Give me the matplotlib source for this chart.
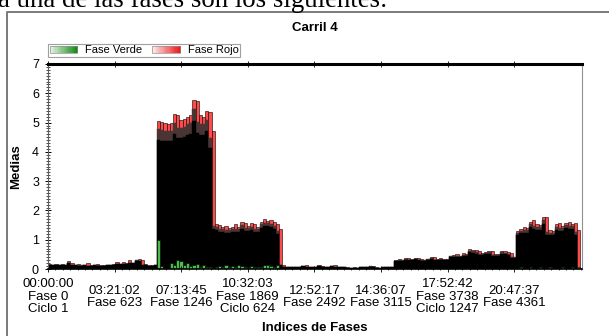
import numpy as np
import matplotlib.pyplot as plt
from matplotlib.patches import Patch, Rectangle
from matplotlib.legend_handler import HandlerBase
from matplotlib.lines import Line2D
from matplotlib.ticker import MultipleLocator
import matplotlib.colors as mcolors

plt.rcParams['font.family'] = ['Liberation Sans', 'DejaVu Sans']

# each bar groups 30 phases
paso = 30

# media de la fase roja por grupo
rojo = [
    # 00:00 - 06:00
    0.18, 0.15, 0.16, 0.14, 0.17, 0.15, 0.27, 0.22, 0.14, 0.16,
    0.13, 0.15, 0.20, 0.12, 0.14, 0.18, 0.13, 0.12, 0.15, 0.14,
    0.16, 0.24, 0.18, 0.25, 0.19, 0.30, 0.22, 0.31, 0.33, 0.30,
    0.16, 0.14, 0.12, 0.15,
    # pico de la manana
    5.05, 5.02, 4.98, 4.95, 4.97, 5.28, 5.25, 5.08, 5.12, 5.20,
    5.25, 5.78, 5.75, 5.27, 5.20, 5.38, 5.36, 4.70,
    # media manana
    1.55, 1.50, 1.42, 1.48, 1.40, 1.45, 1.52, 1.44, 1.60, 1.57,
    1.47, 1.58, 1.52, 1.42, 1.60, 1.72, 1.65, 1.68, 1.62, 1.55,
    1.35,
    # mediodia
    0.15, 0.08, 0.07, 0.06, 0.07, 0.06, 0.10, 0.13, 0.07, 0.06,
    0.07, 0.12, 0.10, 0.07, 0.06, 0.11, 0.14, 0.07, 0.06, 0.07,
    0.06, 0.05, 0.06, 0.05, 0.06, 0.07, 0.06, 0.09, 0.10, 0.06,
    0.05, 0.06, 0.07, 0.06, 0.08,
    # tarde
    0.30, 0.33, 0.32, 0.36, 0.39, 0.34, 0.38, 0.37, 0.33, 0.31,
    0.35, 0.42, 0.40, 0.34, 0.37, 0.35, 0.33,
    0.46, 0.48, 0.50, 0.46, 0.53, 0.50, 0.70, 0.66, 0.64, 0.60,
    0.55, 0.59, 0.61, 0.60, 0.52, 0.50, 0.62, 0.60, 0.58, 0.55,
    0.42,
    # noche
    1.30, 1.38, 1.44, 1.40, 1.62, 1.67, 1.55, 1.50, 1.78, 1.76,
    1.33, 1.30, 1.52, 1.56, 1.48, 1.58, 1.60, 1.55, 1.56, 1.33,
]

# media de la fase verde por grupo
verde = [
    0.03, 0.02, 0.03, 0.02, 0.03, 0.02, 0.03, 0.03, 0.02, 0.03,
    0.02, 0.03, 0.02, 0.02, 0.03, 0.02, 0.03, 0.02, 0.03, 0.02,
    0.03, 0.03, 0.02, 0.03, 0.02, 0.03, 0.03, 0.02, 0.03, 0.02,
    0.03, 0.02, 0.03, 0.02,
    1.00, 0.10, 0.05, 0.03, 0.20, 0.12, 0.30, 0.28, 0.15, 0.20,
    0.10, 0.12, 0.18, 0.08, 0.12, 0.06, 0.08, 0.04,
    0.06, 0.10, 0.08, 0.12, 0.07, 0.10, 0.08, 0.12, 0.09, 0.06,
    0.08, 0.10, 0.06, 0.08, 0.07, 0.12, 0.14, 0.10, 0.08, 0.12,
    0.03,
    0.02, 0.02, 0.01, 0.02, 0.02, 0.01, 0.02, 0.02, 0.01, 0.02,
    0.02, 0.01, 0.02, 0.02, 0.01, 0.02, 0.02, 0.01, 0.02, 0.02,
    0.01, 0.02, 0.02, 0.01, 0.02, 0.02, 0.01, 0.02, 0.02, 0.01,
    0.02, 0.02, 0.01, 0.02, 0.02,
    0.03, 0.02, 0.03, 0.04, 0.03, 0.02, 0.03, 0.04, 0.03, 0.02,
    0.03, 0.04, 0.03, 0.02, 0.03, 0.04, 0.03,
    0.04, 0.03, 0.05, 0.04, 0.03, 0.05, 0.04, 0.03, 0.05, 0.04,
    0.03, 0.05, 0.04, 0.03, 0.05, 0.04, 0.03, 0.05, 0.04, 0.03,
    0.04,
    0.05, 0.06, 0.04, 0.05, 0.06, 0.05, 0.04, 0.06, 0.05, 0.04,
    0.06, 0.05, 0.04, 0.05, 0.06, 0.05, 0.04, 0.06, 0.05, 0.07,
]

tick_fases = [0, 623, 1246, 1869, 2492, 3115, 3738, 4361]
tick_horas = ['00:00:00', '03:21:02', '07:13:45', '10:32:03',
              '12:52:17', '14:36:07', '17:52:42', '20:47:37']
tick_ciclos = {0: 'Ciclo 1', 1869: 'Ciclo 624', 3738: 'Ciclo 1247'}


class GradHandler(HandlerBase):
    # legend patch with horizontal gradient, like the original control
    def __init__(self, c0, c1):
        super().__init__()
        self.c0 = np.array(mcolors.to_rgb(c0))
        self.c1 = np.array(mcolors.to_rgb(c1))

    def create_artists(self, legend, orig_handle, xdescent, ydescent,
                       width, height, fontsize, trans):
        arts = []
        n = 24
        for k in range(n):
            f = k / (n - 1)
            col = self.c0 * (1 - f) + self.c1 * f
            r = Rectangle((-xdescent + k * width / n, -ydescent), width / n + 0.3, height,
                          facecolor=col, edgecolor='none', transform=trans)
            arts.append(r)
        arts.append(Rectangle((-xdescent, -ydescent), width, height, facecolor='none',
                              edgecolor='#909090', lw=0.5, transform=trans))
        return arts


fig = plt.figure(figsize=(6.09, 3.36), dpi=100)
ax = fig.add_axes([48 / 609, 1 - 269 / 336, 534 / 609, 205 / 336])

x = np.arange(len(rojo)) * paso
r = np.array(rojo)
base = np.minimum(r, np.append(r[1:], 0))

ax.bar(x, r, width=paso, align='edge', color='#ff4a4a', edgecolor='black', lw=0.4)
ax.bar(x, base * 0.95, width=paso, align='edge', color='#4a3434', edgecolor='#4a3434', lw=0.3)
ax.bar(x, base * 0.88, width=paso, align='edge', color='black', edgecolor='black', lw=0.3)
ax.bar(x, verde, width=paso, align='edge', color='#4cbb4c', edgecolor='black', lw=0.4)

ax.set_xlim(0, 4995)
ax.set_ylim(0, 7)

labels = []
for f, h in zip(tick_fases, tick_horas):
    s = h + '\nFase %d' % f
    if f in tick_ciclos:
        s += '\n' + tick_ciclos[f]
    labels.append(s)
ax.set_xticks(tick_fases)
ax.set_xticklabels(labels, fontsize=9.5, linespacing=1.05)
for t in ax.xaxis.get_major_ticks():
    t.label1.set_verticalalignment('center')
ax.xaxis.set_minor_locator(MultipleLocator(623 / 9))
ax.set_yticks(range(8))
ax.yaxis.set_minor_locator(MultipleLocator(0.1))

ax.tick_params(axis='x', which='major', direction='inout', length=4, width=0.6,
               top=True, pad=18)
ax.tick_params(axis='x', which='minor', direction='inout', length=2, width=0.5)
ax.tick_params(axis='y', which='major', direction='inout', length=5, width=0.7,
               labelsize=9, pad=4)
ax.tick_params(axis='y', which='minor', direction='inout', length=3, width=0.5)

ax.spines['top'].set_linewidth(2.2)
ax.spines['bottom'].set_linewidth(1.2)
ax.spines['left'].set_color('#606060')
ax.spines['left'].set_linewidth(0.8)
ax.spines['right'].set_color('#909090')
ax.spines['right'].set_linewidth(0.8)

ax.set_ylabel('Medias', fontsize=9.5, fontweight='bold')
ax.yaxis.set_label_coords(-0.049, 0.5)
ax.set_xlabel('Indices de Fases', fontsize=9.5, fontweight='bold')
ax.xaxis.set_label_coords(0.5, -0.257)

fig.text(0.517, 1 - 28 / 336, 'Carril 4', ha='center', va='center',
         fontsize=9.5, fontweight='bold')

hv = Patch(label='Fase Verde')
hr = Patch(label='Fase Rojo')
leg = ax.legend(handles=[hv, hr], loc='lower left', bbox_to_anchor=(0, 1.034),
                borderaxespad=0, ncol=2, fontsize=8, handlelength=2.5,
                handleheight=0.55, handletextpad=0.7, columnspacing=0.9,
                borderpad=0.15, fancybox=False, framealpha=1,
                handler_map={hv: GradHandler('#e8f5e8', '#138a13'),
                             hr: GradHandler('#ffe8e8', '#f01a1a')})
leg.get_frame().set_edgecolor('#a0a0a0')
leg.get_frame().set_linewidth(0.8)

# marco del documento y texto de arriba
fig.add_artist(Line2D([7 / 609, 7 / 609, 1], [0, 1 - 12 / 336, 1 - 12 / 336],
                      color='#7a7a7a', lw=1.4))
fig.text(-0.004, 1 - 7 / 336, 'a una de las fases son los siguientes:',
         family='Liberation Serif', fontsize=19.4, va='baseline', ha='left')

fig.savefig('out.png', dpi=100)
